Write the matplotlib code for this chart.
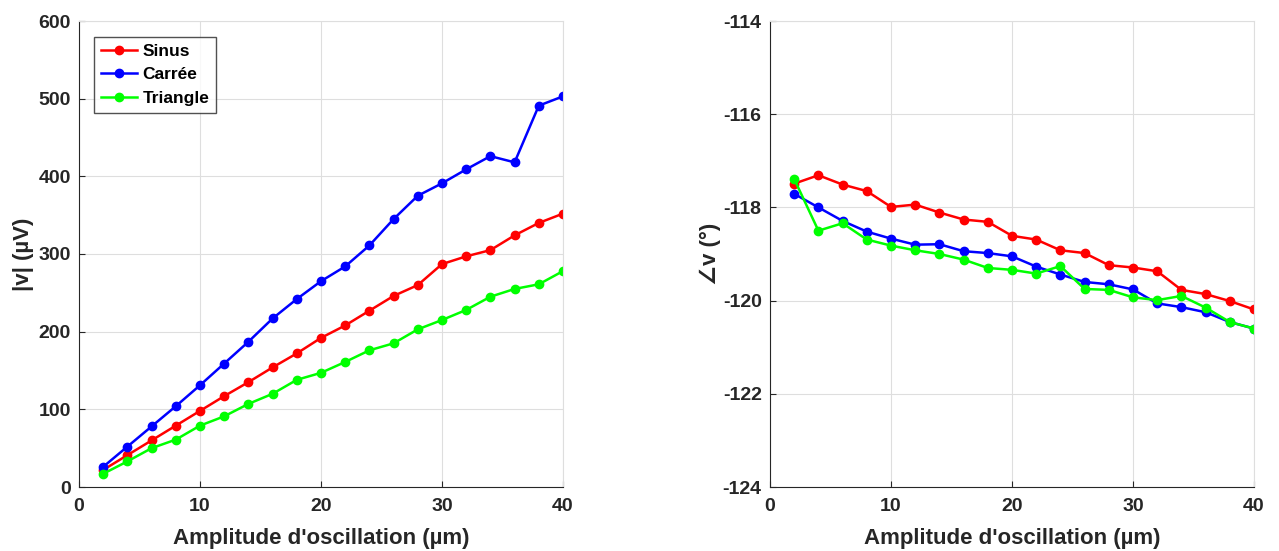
import numpy as np
import matplotlib.pyplot as plt

plt.rcParams['font.family'] = ['Liberation Sans', 'DejaVu Sans']
plt.rcParams['font.weight'] = 'bold'
plt.rcParams['axes.unicode_minus'] = False

amplitude = [2, 4, 6, 8, 10, 12, 14, 16, 18, 20, 22, 24, 26, 28, 30, 32, 34, 36, 38, 40]

# amplitude |v| (uV)
mag_sinus = [22, 41, 60, 79, 98, 117, 135, 154, 172, 192, 208, 227, 246, 260, 287,
             297, 305, 324, 340, 352]
mag_carree = [26, 52, 78, 104, 131, 159, 187, 217, 242, 265, 284, 311, 345, 375, 391,
              409, 426, 418, 491, 503]
mag_triangle = [17, 33, 50, 61, 79, 91, 107, 120, 138, 147, 161, 176, 185, 203, 215,
                228, 245, 255, 261, 278]

# phase (deg)
ph_sinus = [-117.49, -117.31, -117.51, -117.65, -117.99, -117.94, -118.11, -118.26,
            -118.31, -118.61, -118.69, -118.92, -118.98, -119.24, -119.29, -119.37,
            -119.77, -119.86, -120.01, -120.19]
ph_carree = [-117.71, -118.00, -118.29, -118.52, -118.67, -118.80, -118.79, -118.94,
             -118.98, -119.05, -119.27, -119.44, -119.60, -119.65, -119.76, -120.06,
             -120.14, -120.25, -120.46, -120.60]
ph_triangle = [-117.39, -118.50, -118.34, -118.69, -118.82, -118.92, -119.00, -119.12,
               -119.30, -119.34, -119.42, -119.26, -119.75, -119.77, -119.93, -119.99,
               -119.90, -120.15, -120.46, -120.60]

labels = ['Sinus', 'Carrée', 'Triangle']
colors = ['#ff0000', '#0000ff', '#00ff00']
dark = '#262626'


def style_axes(ax):
    ax.grid(True, color='#dedede', linewidth=0.8)
    ax.set_axisbelow(True)
    for s in ['left', 'bottom']:
        ax.spines[s].set_color(dark)
        ax.spines[s].set_linewidth(0.8)
    for s in ['top', 'right']:
        ax.spines[s].set_color('#dedede')
        ax.spines[s].set_linewidth(0.8)
    ax.tick_params(direction='in', length=4, colors=dark, labelsize=14,
                   top=False, right=False)
    ax.tick_params(axis='x', pad=8)
    ax.tick_params(axis='y', pad=6)
    for t in ax.get_xticklabels() + ax.get_yticklabels():
        t.set_fontweight('bold')


fig = plt.figure(figsize=(12.79, 5.51), dpi=100)
ax1 = fig.add_axes([79 / 1279, 64 / 551, 484 / 1279, 466 / 551])
ax2 = fig.add_axes([770 / 1279, 64 / 551, 484 / 1279, 466 / 551])

for y, c, lab in zip([mag_sinus, mag_carree, mag_triangle], colors, labels):
    ax1.plot(amplitude, y, '-o', color=c, lw=1.8, ms=6, label=lab)
ax1.set_xlim(0, 40)
ax1.set_ylim(0, 600)
ax1.set_xticks(np.arange(0, 41, 10))
ax1.set_yticks(np.arange(0, 601, 100))
ax1.set_xlabel("Amplitude d'oscillation (µm)", fontsize=16, fontweight='bold',
               color=dark, labelpad=9)
ax1.set_ylabel('|v| (µV)', fontsize=16, fontweight='bold', color=dark, labelpad=3)
style_axes(ax1)
leg = ax1.legend(loc='upper left', bbox_to_anchor=(0.031, 0.966), borderaxespad=0,
                 fontsize=12.5, frameon=True, fancybox=False, handlelength=2.05,
                 borderpad=0.4, labelspacing=0.48, handletextpad=0.35)
leg.get_frame().set_edgecolor(dark)
leg.get_frame().set_linewidth(1.0)
for t in leg.get_texts():
    t.set_fontweight('bold')

for y, c in zip([ph_sinus, ph_carree, ph_triangle], colors):
    ax2.plot(amplitude, y, '-o', color=c, lw=1.8, ms=6)
ax2.set_xlim(0, 40)
ax2.set_ylim(-124, -114)
ax2.set_xticks(np.arange(0, 41, 10))
ax2.set_yticks(np.arange(-124, -113, 2))
ax2.set_xlabel("Amplitude d'oscillation (µm)", fontsize=16, fontweight='bold',
               color=dark, labelpad=9)
ax2.set_ylabel('∠v (°)', fontsize=16, fontweight='bold', color=dark, labelpad=1)
style_axes(ax2)

fig.savefig('out.png', dpi=100)
